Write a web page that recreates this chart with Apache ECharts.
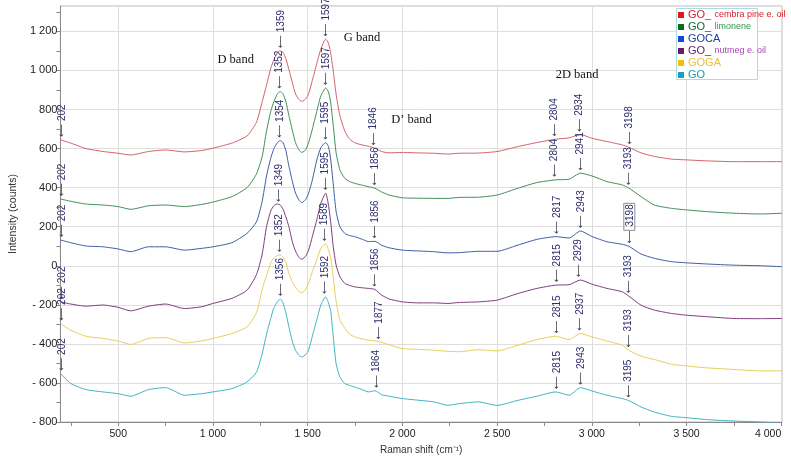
<!DOCTYPE html>
<html><head><meta charset="utf-8">
<script src="https://cdn.jsdelivr.net/npm/echarts@6/dist/echarts.min.js"></script>
<style>html,body{margin:0;padding:0;background:#fff}#c{width:791px;height:463px}</style>
</head><body><div id="c"></div>
<script>
// ---- data ----
const ramanShift = [195, 250, 330, 420, 500, 566, 660, 750, 850, 940, 1000, 1100, 1180, 1230, 1260, 1283, 1305, 1322, 1340, 1355, 1370, 1385, 1401, 1420, 1436, 1455, 1470, 1490, 1505, 1525, 1548, 1570, 1595, 1610, 1622, 1635, 1650, 1670, 1696, 1720, 1748, 1790, 1820, 1855, 1890, 1930, 2000, 2080, 2166, 2240, 2300, 2400, 2500, 2610, 2710, 2810, 2880, 2940, 3000, 3080, 3160, 3195, 3260, 3330, 3420, 3500, 3610, 3750, 3890, 4004];

const seriesNames = ['GO_ cembra pine e. oil', 'GO_ limonene', 'GOCA', 'GO_ nutmeg e. oil', 'GOGA', 'GO'];

const cembraPine = [645, 628, 600, 585, 576, 567, 585, 593, 583, 590, 602, 628, 665, 735, 840, 925, 1010, 1055, 1090, 1100, 1092, 1060, 1005, 935, 880, 850, 842, 855, 880, 950, 1035, 1110, 1160, 1140, 1085, 1000, 880, 770, 690, 650, 630, 618, 612, 602, 585, 578, 580, 578, 576, 572, 576, 577, 585, 610, 631, 648, 655, 672, 653, 636, 619, 607, 578, 560, 546, 542, 537, 533, 533, 533];
const limonene = [342, 330, 316, 311, 303, 289, 307, 311, 303, 314, 326, 354, 400, 470, 560, 690, 790, 840, 880, 892, 880, 840, 770, 690, 630, 592, 580, 595, 630, 700, 790, 870, 910, 890, 833, 720, 580, 491, 448, 432, 422, 412, 405, 397, 378, 362, 348, 346, 345, 345, 350, 351, 362, 397, 426, 440, 443, 474, 460, 431, 414, 398, 354, 311, 294, 286, 277, 269, 265, 269];
const goca = [132, 118, 101, 97, 86, 72, 97, 97, 80, 89, 97, 118, 166, 225, 330, 460, 550, 600, 630, 641, 630, 590, 510, 430, 372, 335, 323, 340, 371, 440, 540, 605, 631, 610, 542, 420, 280, 200, 166, 155, 149, 135, 124, 125, 105, 92, 80, 76, 72, 66, 67, 74, 74, 106, 135, 149, 142, 178, 150, 123, 110, 100, 60, 38, 21, 15, 9, 3, 0, -5];
const nutmeg = [-185, -196, -207, -201, -213, -231, -207, -196, -219, -210, -193, -167, -125, -45, 60, 200, 280, 308, 316, 312, 290, 250, 200, 120, 75, 42, 33, 50, 80, 150, 234, 320, 372, 310, 220, 100, 5, -56, -90, -100, -108, -113, -116, -121, -150, -170, -185, -190, -190, -193, -188, -185, -176, -142, -116, -99, -97, -73, -94, -116, -133, -155, -202, -227, -244, -253, -261, -270, -271, -270];
const goga = [-296, -330, -361, -372, -385, -403, -372, -368, -395, -385, -372, -347, -313, -240, -120, -50, 15, 40, 53, 55, 45, 15, -39, -85, -110, -132, -138, -120, -90, -30, 29, 90, 112, 80, 40, -60, -180, -278, -320, -350, -364, -375, -381, -384, -392, -405, -424, -428, -432, -438, -440, -430, -436, -407, -378, -361, -378, -347, -364, -385, -407, -432, -463, -480, -504, -513, -523, -531, -538, -538];
const goPlain = [-552, -603, -634, -646, -655, -668, -634, -624, -663, -655, -646, -629, -595, -545, -450, -350, -270, -215, -185, -170, -190, -240, -313, -390, -432, -460, -467, -455, -432, -360, -278, -200, -159, -190, -235, -360, -500, -569, -603, -612, -621, -635, -646, -640, -660, -668, -680, -688, -697, -714, -706, -697, -715, -689, -668, -646, -663, -624, -641, -663, -680, -690, -723, -749, -771, -778, -788, -795, -800, -806];

// peak annotation positions (cm-1) per series
const cembraPeaks = [202, 1359, 1597, 1846, 2804, 2934, 3198];
const limonenePeaks = [202, 1352, 1597, 1856, 2804, 2941, 3193];
const gocaPeaks = [202, 1354, 1595, 1856, 2817, 2943, 3198];
const nutmegPeaks = [202, 1349, 1595, 1856, 2815, 2929, 3193];
const gogaPeaks = [202, 1352, 1589, 1877, 2815, 2937, 3193];
const goPeaks = [202, 1356, 1592, 1864, 2815, 2943, 3195];
const boxedPeak = {series: 2, x: 3198};

// band names and where they sit (data coordinates)
const bandNames = ['D band', 'G band', 'D\u2019 band', '2D band'];
const bandX = [1120, 1787, 2048, 2922];
const bandY = [1055, 1170, 747, 978];

// axis ticks / labels
const xTickValues = [250, 500, 750, 1000, 1250, 1500, 1750, 2000, 2250, 2500, 2750, 3000, 3250, 3500, 3750, 4000];
const xLabelValues = [500, 1000, 1500, 2000, 2500, 3000, 3500, 4000];
const yTickValues = [-800, -700, -600, -500, -400, -300, -200, -100, 0, 100, 200, 300, 400, 500, 600, 700, 800, 900, 1000, 1100, 1200, 1300];
const yLabelValues = [-800, -600, -400, -200, 0, 200, 400, 600, 800, 1000, 1200];

// ---- styles ----
const lineColors = ['#d4606a', '#3f8f58', '#3c5ea2', '#7c3d7e', '#e8cf58', '#3eb3c2'];
const iconColors = ['#e8141c', '#0b6b16', '#1447e0', '#6b1a6b', '#f5c000', '#19a0c0'];
const legendMain = ['#d81e28', '#0e6a2a', '#1c3d9c', '#6a1b6a', '#f0c030', '#1c98b6'];
const legendSub = ['#d81e28', '#2a9a4c', '#1c3d9c', '#a24aae', '#f0c030', '#1c98b6'];

const allValues = [cembraPine, limonene, goca, nutmeg, goga, goPlain];
const allPeaks = [cembraPeaks, limonenePeaks, gocaPeaks, nutmegPeaks, gogaPeaks, goPeaks];

function fmt(v) {
  const a = Math.abs(v);
  const s = a >= 1000 ? Math.floor(a / 1000) + ' ' + String(a % 1000).padStart(3, '0') : String(a);
  return (v < 0 ? '- ' : '') + s;
}
function nearestY(vals, x) {
  let b = 0;
  for (let i = 0; i < ramanShift.length; i++) if (Math.abs(ramanShift[i] - x) < Math.abs(ramanShift[b] - x)) b = i;
  return vals[b];
}

const annRich = {
  a: {color: '#3a3a4a', fontSize: 9, fontFamily: 'DejaVu Sans'},
  n: {color: '#2e2e6e', fontSize: 10, fontFamily: 'Liberation Sans, Arial'},
  nb: {color: '#2e2e6e', fontSize: 10, fontFamily: 'Liberation Sans, Arial', borderColor: '#8c8c8c', borderWidth: 1, padding: [1, 1, 0, 1]}
};

const series = seriesNames.map((name, i) => {
  const marks = allPeaks[i].map(x => ({
    name: String(x),
    coord: [x, nearestY(allValues[i], x)],
    label: {formatter: '{a|\u27F5}{' + ((boxedPeak.series === i && boxedPeak.x === x) ? 'nb' : 'n') + '| ' + x + '}'}
  }));
  if (i === 0) {
    bandNames.forEach((b, k) => marks.push({
      name: b, coord: [bandX[k], bandY[k]],
      label: {formatter: b, rotate: 0, position: 'inside', align: 'center', verticalAlign: 'middle',
        fontFamily: 'Liberation Serif, Times New Roman, serif', fontSize: 12.5, color: '#111'}
    }));
  }
  return {
    type: 'line', name: name,
    data: ramanShift.map((x, j) => [x, allValues[i][j]]),
    showSymbol: false, symbol: 'none', smooth: 0.2,
    lineStyle: {width: 1, color: lineColors[i]},
    itemStyle: {color: iconColors[i]},
    z: 2 + i * 0.01,
    markPoint: {
      symbol: 'circle', symbolSize: 0, silent: true, animation: false,
      label: {show: true, position: 'top', distance: 3, rotate: 90, align: 'left', verticalAlign: 'middle', rich: annRich},
      data: marks
    }
  };
});

const legendRich = {};
seriesNames.forEach((n, i) => {
  legendRich['b' + i] = {color: legendMain[i], fontSize: 11, fontFamily: 'Liberation Sans, Arial', lineHeight: 12};
  legendRich['s' + i] = {color: legendSub[i], fontSize: 9, fontFamily: 'Liberation Sans, Arial', lineHeight: 12};
});

const chart = echarts.init(document.getElementById('c'), null, {renderer: 'canvas'});
chart.setOption({
  animation: false,
  backgroundColor: '#fff',
  grid: {left: 52, right: 9, top: 6, bottom: 41, show: true, borderColor: '#bdbdbd', borderWidth: 1, backgroundColor: 'transparent'},
  graphic: [{type: 'rect', left: 676, top: 8, z: 3, shape: {width: 81, height: 71}, style: {fill: '#fff', stroke: '#a9dde2', lineWidth: 1}}],
  legend: {
    orient: 'vertical', left: 678, top: 9, padding: 0, itemGap: 0, itemWidth: 6, itemHeight: 6, icon: 'rect',
    data: seriesNames, selectedMode: false,
    formatter: n => {
      const i = seriesNames.indexOf(n);
      if (n.startsWith('GO_')) return '{b' + i + '|GO_} {s' + i + '|' + n.slice(4) + '}';
      return '{b' + i + '|' + n + '}';
    },
    textStyle: {rich: legendRich, lineHeight: 12, padding: [0, 0, 0, -1]}
  },
  xAxis: [
    {type: 'value', min: 195, max: 4004,
      name: 'Raman shift (cm\u207B\u00B9)', nameLocation: 'middle', nameGap: 22,
      nameTextStyle: {fontSize: 10, color: '#333', fontFamily: 'Liberation Sans, Arial'},
      axisLine: {show: true, onZero: false, lineStyle: {color: '#8a8a8a'}},
      axisTick: {show: true, customValues: xTickValues, length: 4, lineStyle: {color: '#8a8a8a'}},
      axisLabel: {customValues: xLabelValues, formatter: fmt, color: '#222', fontSize: 10.5, fontFamily: 'Liberation Sans, Arial', margin: 7, alignMaxLabel: 'right'},
      splitLine: {show: false}},
    {type: 'value', min: 195, max: 4004, position: 'bottom',
      axisLine: {show: false}, axisTick: {show: false, customValues: xLabelValues}, axisLabel: {show: false},
      splitLine: {show: true, lineStyle: {color: '#dedede', width: 1}}}
  ],
  yAxis: [
    {type: 'value', min: -800, max: 1330,
      name: 'Intensity (counts)', nameLocation: 'middle', nameGap: 36, nameRotate: 90,
      nameTextStyle: {fontSize: 10.5, color: '#333', fontFamily: 'Liberation Sans, Arial'},
      axisLine: {show: true, onZero: false, lineStyle: {color: '#8a8a8a'}},
      axisTick: {show: true, customValues: yTickValues, length: 4, lineStyle: {color: '#8a8a8a'}},
      axisLabel: {customValues: yLabelValues, formatter: fmt, color: '#222', fontSize: 11, fontFamily: 'Liberation Sans, Arial', margin: 3},
      splitLine: {show: false}},
    {type: 'value', min: -800, max: 1330, position: 'left',
      axisLine: {show: false}, axisTick: {show: false, customValues: yLabelValues}, axisLabel: {show: false},
      splitLine: {show: true, lineStyle: {color: '#dedede', width: 1}}}
  ],
  series: series
});
</script>
</body></html>
